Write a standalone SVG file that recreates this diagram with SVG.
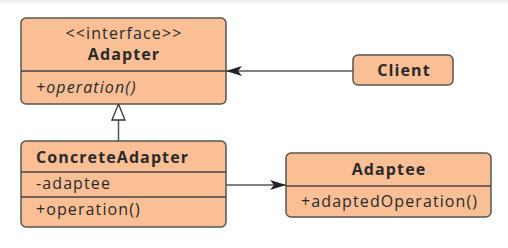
<svg xmlns="http://www.w3.org/2000/svg" width="508" height="248" viewBox="0 0 508 248">
  <defs>
    <linearGradient id="topShade" x1="0" y1="0" x2="0" y2="1">
      <stop offset="0" stop-color="#ececec"/>
      <stop offset="1" stop-color="#ffffff"/>
    </linearGradient>
    <marker id="filledArrow" viewBox="0 0 16 10" refX="16" refY="5" markerWidth="16" markerHeight="10" markerUnits="userSpaceOnUse" orient="auto">
      <path d="M0,0 L16,5 L0,10 L4,5 Z" fill="#222"/>
    </marker>
    <marker id="hollowTriangle" viewBox="0 0 18 15" refX="17" refY="7.5" markerWidth="18" markerHeight="15" markerUnits="userSpaceOnUse" orient="auto">
      <path d="M1,1 L17,7.5 L1,14 Z" fill="#fff" stroke="#333" stroke-width="1.3"/>
    </marker>
  </defs>
  <style>
    .box { fill: #fbbf95; stroke: #555; stroke-width: 1.5; }
    .div { stroke: #444; stroke-width: 1.3; }
    .t { font-family: "Open Sans", Lato, sans-serif; fill: #2a2a2a; font-size: 16px; letter-spacing: 1.1px; }
    .b { font-weight: bold; }
    .i { font-style: italic; }
    .mid { text-anchor: middle; }
    .edge { stroke: #555; stroke-width: 1.5; fill: none; }
  </style>

  <rect x="0" y="0" width="508" height="6" fill="url(#topShade)"/>

  <g id="connectors">
    <line class="edge" x1="353" y1="71" x2="226" y2="71" marker-end="url(#filledArrow)"/>
    <line class="edge" x1="118.5" y1="141" x2="118.5" y2="104" marker-end="url(#hollowTriangle)"/>
    <line class="edge" x1="226" y1="185" x2="286" y2="185" marker-end="url(#filledArrow)"/>
  </g>

  <g id="adapter">
    <rect class="box" x="21" y="18" width="205" height="86" rx="5"/>
    <line class="div" x1="21" y1="71" x2="226" y2="71"/>
    <text class="t mid" x="124" y="39">&lt;&lt;interface&gt;&gt;</text>
    <text class="t b mid" x="124" y="60">Adapter</text>
    <text class="t i" x="36" y="93">+operation()</text>
  </g>

  <g id="client">
    <rect class="box" x="353" y="55" width="100" height="30" rx="5"/>
    <text class="t b mid" x="404" y="76">Client</text>
  </g>

  <g id="concreteAdapter">
    <rect class="box" x="21" y="141" width="205" height="86" rx="5"/>
    <line class="div" x1="21" y1="172" x2="226" y2="172"/>
    <line class="div" x1="21" y1="197" x2="226" y2="197"/>
    <text class="t b" x="36" y="163">ConcreteAdapter</text>
    <text class="t" x="36" y="189">-adaptee</text>
    <text class="t" x="36" y="215">+operation()</text>
  </g>

  <g id="adaptee">
    <rect class="box" x="286" y="153" width="205" height="64" rx="5"/>
    <line class="div" x1="286" y1="186" x2="491" y2="186"/>
    <text class="t b mid" x="389" y="175">Adaptee</text>
    <text class="t" x="301" y="207">+adaptedOperation()</text>
  </g>
</svg>
